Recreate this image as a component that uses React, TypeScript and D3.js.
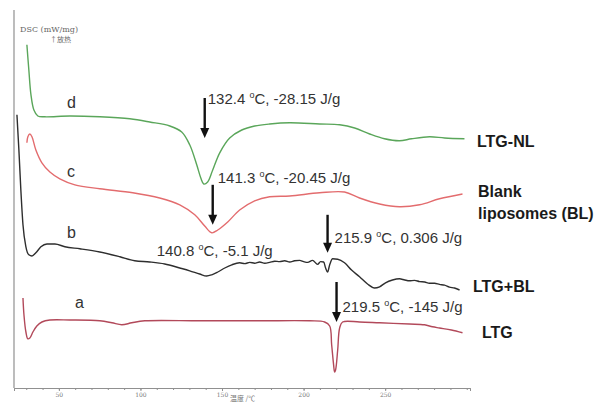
import React, { useEffect, useRef } from 'react';
import * as d3 from 'd3';

const W = 604;
const H = 402;

// DSC traces: temperature (°C) and heat flow (mW/mg, offset per trace)
const ltgNlT = [30.4, 31.6, 32.9, 34.7, 37.1, 41.4, 56.7, 75.1, 93.5, 105.7, 118.0, 125.3, 130.2, 134.5, 137.0, 138.8, 141.2, 144.3, 148.6, 154.7, 162.1, 170.0, 179.2, 191.5, 209.8, 222.1, 231.3, 240.5, 249.6, 258.8, 266.2, 277.2, 286.4, 298.6];
const ltgNlDsc = [8.58, 7.95, 7.33, 6.95, 6.8, 6.78, 6.8, 6.78, 6.73, 6.65, 6.55, 6.4, 6.08, 5.58, 5.25, 5.1, 5.15, 5.45, 5.88, 6.25, 6.45, 6.55, 6.6, 6.63, 6.6, 6.58, 6.5, 6.35, 6.23, 6.18, 6.23, 6.28, 6.25, 6.23];

const blankT = [30.4, 31.0, 32.2, 33.5, 35.9, 39.6, 44.5, 50.6, 59.8, 75.1, 95.3, 111.8, 124.1, 133.3, 139.4, 143.7, 147.4, 153.5, 160.8, 170.0, 179.2, 191.5, 209.8, 225.1, 234.3, 246.6, 258.8, 271.1, 283.3, 297.4];
const blankDsc = [6.13, 6.28, 6.35, 6.28, 5.95, 5.63, 5.4, 5.23, 5.08, 4.98, 4.88, 4.75, 4.58, 4.33, 4.05, 3.88, 3.95, 4.15, 4.45, 4.68, 4.78, 4.8, 4.88, 4.9, 4.75, 4.6, 4.53, 4.58, 4.73, 4.85];

const mixT = [24.3, 25.5, 26.7, 28.0, 29.8, 31.6, 33.5, 35.9, 39.0, 42.7, 47.6, 53.7, 62.9, 75.1, 87.4, 96.5, 105.7, 114.9, 124.1, 130.2, 136.3, 140.6, 143.7, 147.4, 151.7, 156.0, 160.8, 164.0, 167.0, 170.0, 173.1, 176.2, 179.2, 182.3, 185.3, 188.4, 191.5, 194.5, 197.6, 200.0, 202.5, 205.5, 208.6, 210.4, 212.3, 213.5, 214.7, 216.0, 217.8, 220.9, 225.1, 229.4, 234.3, 239.2, 243.5, 246.6, 250.2, 254.5, 258.8, 262.0, 264.9, 268.0, 271.1, 274.2, 277.2, 280.3, 283.3, 286.4, 289.4, 292.5, 295.6];
const mixDsc = [6.83, 5.95, 4.95, 4.08, 3.53, 3.33, 3.3, 3.38, 3.53, 3.6, 3.6, 3.53, 3.48, 3.4, 3.28, 3.18, 3.15, 3.1, 3.0, 2.93, 2.85, 2.8, 2.83, 2.9, 3.0, 3.08, 3.13, 3.11, 3.14, 3.12, 3.15, 3.12, 3.14, 3.17, 3.16, 3.18, 3.15, 3.18, 3.19, 3.16, 3.14, 3.19, 3.09, 3.16, 3.15, 3.0, 2.9, 3.08, 3.23, 3.22, 3.13, 2.95, 2.78, 2.6, 2.5, 2.53, 2.63, 2.7, 2.73, 2.7, 2.68, 2.69, 2.66, 2.65, 2.62, 2.62, 2.59, 2.57, 2.52, 2.5, 2.45];

const ltgT = [28.0, 28.6, 29.8, 31.0, 32.2, 34.1, 36.5, 39.6, 44.5, 56.7, 75.1, 82.5, 88.6, 94.7, 102.7, 136.3, 173.1, 203.7, 212.9, 216.0, 217.2, 218.4, 219.0, 219.6, 220.9, 222.1, 223.9, 234.3, 246.6, 264.9, 274.1, 279.0, 283.3, 290.6, 297.4];
const ltgDsc = [2.25, 1.83, 1.4, 1.23, 1.25, 1.4, 1.55, 1.65, 1.7, 1.7, 1.68, 1.63, 1.58, 1.63, 1.68, 1.68, 1.68, 1.68, 1.65, 1.55, 1.08, 0.58, 0.4, 0.45, 0.95, 1.5, 1.65, 1.65, 1.63, 1.6, 1.58, 1.53, 1.5, 1.45, 1.38];

const traceNames = ['LTG-NL', 'Blank|liposomes (BL)', 'LTG+BL', 'LTG'];
const traceLetters = ['d', 'c', 'b', 'a'];
const traceColors = ['#5aa65a', '#e36c6e', '#2e2e2e', '#b2495a'];

// peak annotations
const peakTemp = ['132.4', '141.3', '215.9', '219.5'];
const peakEnthalpy = ['-28.15 J/g', '-20.45 J/g', '0.306 J/g', '-145 J/g'];
const arrowT = [139.4, 144.3, 214.7, 220.2];
const arrowTop = [7.25, 5.08, 4.33, 2.65];
const arrowTip = [6.25, 4.08, 3.38, 1.65];

const majorTicks = [50, 100, 150, 200, 250];

export default function App() {
  const axisRef = useRef<SVGGElement>(null);

  const x = d3.scaleLinear().domain([22.5, 302]).range([14, 470]);
  const y = d3.scaleLinear().domain([0, 9.45]).range([388, 10]);

  const traces = [
    [ltgNlT, ltgNlDsc],
    [blankT, blankDsc],
    [mixT, mixDsc],
    [ltgT, ltgDsc],
  ];

  // the LTG+BL trace is noisy: monotone curve so the wiggles don't overshoot
  const curves = [
    d3.curveCatmullRom.alpha(0.5),
    d3.curveCatmullRom.alpha(0.5),
    d3.curveMonotoneX,
    d3.curveCatmullRom.alpha(0.5),
  ];

  useEffect(() => {
    const g = d3.select(axisRef.current);
    g.selectAll('*').remove();
    // minor ticks every 10 °C
    g.append('g')
      .call(
        d3.axisBottom(x).tickValues(d3.range(30, 301, 10)).tickSize(2).tickFormat(() => '')
      );
    const major = g
      .append('g')
      .call(d3.axisBottom(x).tickValues(majorTicks).tickSize(3).tickPadding(2));
    g.selectAll('.domain').attr('stroke', '#909090');
    g.selectAll('line').attr('stroke', '#909090');
    major
      .selectAll('text')
      .attr('fill', '#777')
      .style('font-size', '6px')
      .style('font-family', '"DejaVu Serif", serif');
  }, []);

  const names = [
    { x: 477, y: 147 },
    { x: 478, y: 197 },
    { x: 473, y: 292 },
    { x: 482, y: 338 },
  ];
  const letters = [
    { x: 67, y: 108 },
    { x: 67, y: 177 },
    { x: 67, y: 238 },
    { x: 75, y: 308 },
  ];
  const peakOffsets = [
    { dx: 3, dy: 6 },
    { dx: 5, dy: -2 },
    { dx: 7, dy: 28 },
    { dx: 6, dy: 30 },
  ];

  const fontA = 'Arial, "Liberation Sans", sans-serif';

  return (
    <svg
      width={W}
      height={H}
      style={{ position: 'absolute', left: 0, top: 0, background: '#fff' }}
      fontFamily={fontA}
    >
      {/* y axis */}
      <line x1={x(22.5)} x2={x(22.5)} y1={y(9.45)} y2={y(0)} stroke="#909090" strokeWidth={1.2} />
      <g ref={axisRef} transform={`translate(0,${y(0)})`} />
      <text x={20} y={32} fontSize={8} fill="#666" fontFamily='"DejaVu Serif", serif' textLength={58}>
        DSC (mW/mg)
      </text>
      <text x={71} y={42} fontSize={7} fill="#666" textAnchor="end" fontFamily='"Noto Sans CJK SC", serif'>
        ↑放热
      </text>
      <text x={230} y={401} fontSize={7} fill="#777" fontFamily='"Noto Sans CJK SC", serif'>
        温度 /℃
      </text>

      {traces.map(([ts, vs], i) => (
        <path
          key={i}
          d={
            d3
              .line<[number, number]>()
              .x((d) => x(d[0]))
              .y((d) => y(d[1]))
              .curve(curves[i])(ts.map((t, k) => [t, vs[k]] as [number, number])) || ''
          }
          fill="none"
          stroke={traceColors[i]}
          strokeWidth={1.4}
          strokeLinejoin="round"
        />
      ))}

      {traceLetters.map((l, i) => (
        <text key={l} x={letters[i].x} y={letters[i].y} fontSize={16} fill="#333">
          {l}
        </text>
      ))}

      {traceNames.map((n, i) =>
        n.split('|').map((part, k) => (
          <text
            key={i + '-' + k}
            x={names[i].x}
            y={names[i].y + k * 22}
            fontSize={16}
            fontWeight="bold"
            fill="#1a1a1a"
          >
            {part}
          </text>
        ))
      )}

      {arrowT.map((t, i) => {
        const ax = x(t);
        const top = y(arrowTop[i]);
        const tip = y(arrowTip[i]);
        return (
          <g key={i}>
            <line x1={ax} x2={ax} y1={top} y2={tip - 8} stroke="#111" strokeWidth={2.4} />
            <path d={`M${ax - 4.5},${tip - 10}L${ax + 4.5},${tip - 10}L${ax},${tip}Z`} fill="#111" />
            <text x={ax + peakOffsets[i].dx} y={top + peakOffsets[i].dy} fontSize={15} fill="#333">
              {peakTemp[i] + ' '}
              <tspan fontSize={9} dy={-6}>o</tspan>
              <tspan dy={6}>{'C, ' + peakEnthalpy[i]}</tspan>
            </text>
          </g>
        );
      })}

      <text x={x(110)} y={y(3.3)} fontSize={15} fill="#333">
        140.8 <tspan fontSize={9} dy={-6}>o</tspan>
        <tspan dy={6}>C, -5.1 J/g</tspan>
      </text>
    </svg>
  );
}
